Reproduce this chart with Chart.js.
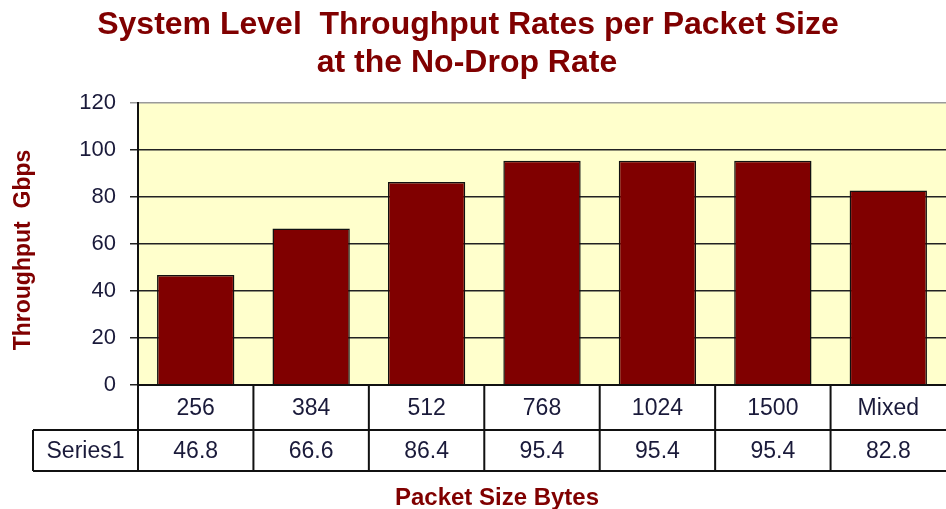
<!DOCTYPE html>
<html>
<head>
<meta charset="utf-8">
<script src="https://cdn.jsdelivr.net/npm/chart.js@4"></script>
<style>
  html, body { margin: 0; padding: 0; background: #fff; overflow: hidden; }
  #wrap { width: 946px; height: 509px; }
</style>
</head>
<body>
<div id="wrap"><canvas id="c" width="946" height="509"></canvas></div>
<script>
// chart data
const packetSizes = ['256', '384', '512', '768', '1024', '1500', 'Mixed'];
const throughput = [46.8, 66.6, 86.4, 95.4, 95.4, 95.4, 82.8];
const seriesName = 'Series1';
const yTicks = [0, 20, 40, 60, 80, 100, 120];

const titleLines = ['System Level  Throughput Rates per Packet Size', 'at the No-Drop Rate'];
const yTitle = 'Throughput  Gbps';
const xTitle = 'Packet Size Bytes';

const darkRed = '#800000';
const textCol = '#1a1a3a';
const fontFam = '"Liberation Sans", Arial, sans-serif';

// background of plot area, titles and the data table under the axis
const excelLook = {
  id: 'excelLook',
  beforeDraw(chart) {
    const { ctx, chartArea: a } = chart;
    ctx.save();
    ctx.fillStyle = '#ffffcc';
    ctx.fillRect(a.left, a.top, a.right - a.left, a.bottom - a.top);
    ctx.restore();
  },
  afterDraw(chart) {
    const { ctx, chartArea: a } = chart;
    const x = chart.scales.x;
    const step = (a.right - a.left) / packetSizes.length;
    ctx.save();

    // titles
    ctx.fillStyle = darkRed;
    ctx.textAlign = 'center';
    ctx.textBaseline = 'middle';
    ctx.font = 'bold 32px ' + fontFam;
    ctx.fillText(titleLines[0], 468, 25);
    ctx.fillText(titleLines[1], 467, 63);

    ctx.font = 'bold 24px ' + fontFam;
    ctx.fillText(xTitle, 497, 498);

    ctx.save();
    ctx.translate(24, 250);
    ctx.rotate(-Math.PI / 2);
    ctx.font = 'bold 23px ' + fontFam;
    ctx.fillText(yTitle, 0, 0);
    ctx.restore();

    // data table
    const row1 = a.bottom, row2 = a.bottom + 45, row3 = a.bottom + 86;
    const tableLeft = 33;
    ctx.strokeStyle = '#111';
    ctx.lineWidth = 2;
    ctx.beginPath();
    ctx.moveTo(a.left, row1); ctx.lineTo(a.right + 10, row1);
    ctx.moveTo(tableLeft, row2); ctx.lineTo(a.right + 10, row2);
    ctx.moveTo(tableLeft, row3); ctx.lineTo(a.right + 10, row3);
    ctx.moveTo(tableLeft, row2); ctx.lineTo(tableLeft, row3);
    ctx.moveTo(a.left, row1); ctx.lineTo(a.left, row3);
    for (let i = 1; i < packetSizes.length; i++) {
      const bx = x.getPixelForValue(i) - step / 2;
      ctx.moveTo(bx, row1); ctx.lineTo(bx, row3);
    }
    ctx.stroke();

    ctx.fillStyle = textCol;
    ctx.font = '23px ' + fontFam;
    packetSizes.forEach((p, i) => {
      const cx = x.getPixelForValue(i);
      ctx.fillText(p, cx, (row1 + row2) / 2 + 1);
      ctx.fillText(String(throughput[i]), cx, (row2 + row3) / 2 + 1);
    });
    ctx.fillText(seriesName, (tableLeft + a.left) / 2, (row2 + row3) / 2 + 1);
    ctx.restore();
  }
};

new Chart(document.getElementById('c'), {
  type: 'bar',
  data: {
    labels: packetSizes,
    datasets: [{
      label: seriesName,
      data: throughput,
      backgroundColor: darkRed,
      borderColor: '#111',
      borderWidth: 1.5,
      barPercentage: 0.67,
      categoryPercentage: 1
    }]
  },
  options: {
    responsive: false,
    animation: false,
    layout: { padding: { left: 0, top: 103, right: 0, bottom: 124 } },
    plugins: {
      legend: { display: false },
      tooltip: { enabled: false }
    },
    scales: {
      x: {
        ticks: { display: false },
        grid: { display: false },
        border: { display: false },
        afterFit: s => { s.height = 0; }
      },
      y: {
        min: 0,
        max: 120,
        afterFit: s => { s.width = 138; },
        afterBuildTicks: s => { s.ticks = yTicks.map(v => ({ value: v })); },
        ticks: {
          color: textCol,
          padding: 14,
          font: { size: 22, family: fontFam }
        },
        grid: {
          color: c => c.tick && c.tick.value === 120 ? '#9a9a9a' : '#222',
          lineWidth: 1.5,
          tickLength: 8
        },
        border: { color: '#111', width: 2 }
      }
    }
  },
  plugins: [excelLook]
});
</script>
</body>
</html>
